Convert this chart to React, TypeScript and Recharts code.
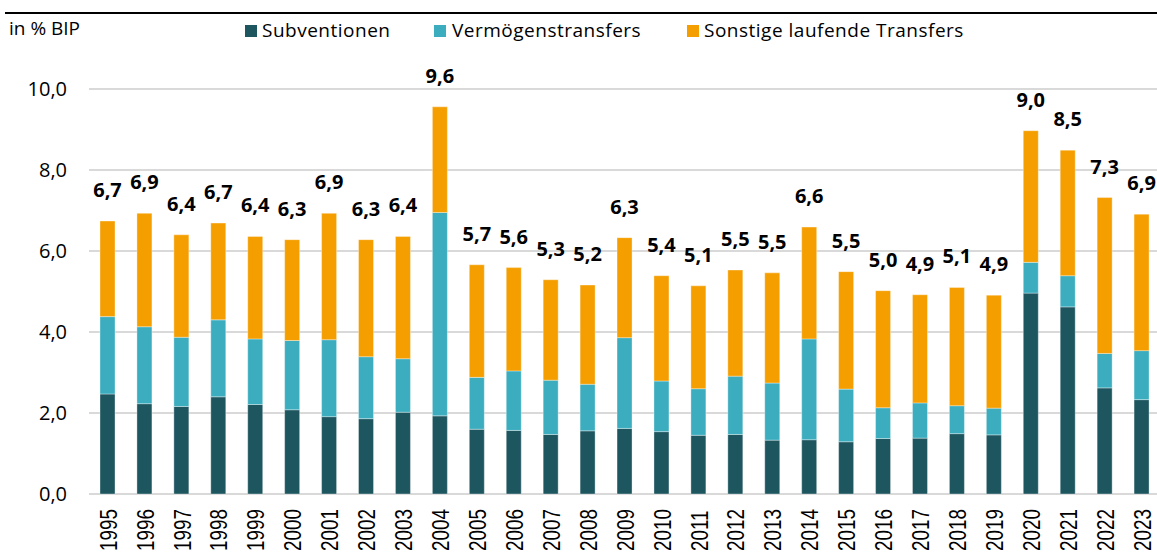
import React from 'react';
import { BarChart, Bar, XAxis, YAxis, CartesianGrid, Legend, LabelList } from 'recharts';

// values in % of GDP
const years = [
    '1995', '1996', '1997', '1998', '1999', '2000', '2001', '2002', '2003', '2004',
    '2005', '2006', '2007', '2008', '2009', '2010', '2011', '2012', '2013', '2014',
    '2015', '2016', '2017', '2018', '2019', '2020', '2021', '2022', '2023',
];

const subventionen = [
    2.47, 2.23, 2.16, 2.40, 2.21, 2.08, 1.91, 1.86, 2.02, 1.93,
    1.60, 1.57, 1.47, 1.56, 1.62, 1.54, 1.45, 1.47, 1.33, 1.34,
    1.29, 1.37, 1.38, 1.49, 1.46, 4.96, 4.62, 2.62, 2.33,
];

const vermoegenstransfers = [
    1.91, 1.90, 1.71, 1.90, 1.62, 1.71, 1.90, 1.53, 1.32, 5.02,
    1.28, 1.47, 1.34, 1.15, 2.24, 1.25, 1.15, 1.44, 1.41, 2.49,
    1.30, 0.76, 0.87, 0.69, 0.66, 0.76, 0.77, 0.85, 1.21,
];

const sonstige = [
    2.36, 2.80, 2.53, 2.39, 2.53, 2.49, 3.12, 2.89, 3.02, 2.61,
    2.78, 2.55, 2.48, 2.45, 2.47, 2.60, 2.54, 2.62, 2.72, 2.76,
    2.90, 2.89, 2.67, 2.92, 2.79, 3.25, 3.10, 3.85, 3.37,
];

const yTicks = [0, 2, 4, 6, 8, 10];

const COLORS = {
    sub: '#1e5660',
    verm: '#3badbf',
    sonst: '#f59e00',
};

const legendItems = [
    { label: 'Subventionen', color: COLORS.sub, square: 245, text: 262 },
    { label: 'Vermögenstransfers', color: COLORS.verm, square: 434, text: 452 },
    { label: 'Sonstige laufende Transfers', color: COLORS.sonst, square: 687, text: 704 },
];

const fmt = (v: number) => v.toFixed(1).replace('.', ',');

const data = years.map((year, i) => ({
    year,
    sub: subventionen[i],
    verm: vermoegenstransfers[i],
    sonst: sonstige[i],
    total: subventionen[i] + vermoegenstransfers[i] + sonstige[i],
}));

const HeaderLegend = () => (
    <div style={{ position: 'relative', width: 1157, height: 50 }}>
        <div style={{ position: 'absolute', left: 5, right: 0, top: 12, height: 2, background: '#000' }} />
        <div style={{ position: 'absolute', left: 9, top: 15, fontSize: 19, lineHeight: '26px', color: '#000' }}>
            in % BIP
        </div>
        {legendItems.map((item) => (
            <React.Fragment key={item.label}>
                <div
                    style={{
                        position: 'absolute',
                        left: item.square,
                        top: 25,
                        width: 12,
                        height: 12,
                        background: item.color,
                    }}
                />
                <div
                    style={{
                        position: 'absolute',
                        left: item.text,
                        top: 17,
                        fontSize: 19,
                        lineHeight: '26px',
                        letterSpacing: 0.5,
                        color: '#000',
                        whiteSpace: 'nowrap',
                    }}
                >
                    {item.label}
                </div>
            </React.Fragment>
        ))}
    </div>
);

// year labels are rotated and look narrow in the original, squeeze them a bit
const YearTick = (props: any) => {
    const { x, payload } = props;
    return (
        <text
            transform={`translate(${x + 1},551) rotate(-90) scale(0.82,1)`}
            textAnchor="start"
            dominantBaseline="central"
            fontFamily="'Liberation Sans', Arial, sans-serif"
            fontSize={23}
            fill="#000"
        >
            {payload.value}
        </text>
    );
};

const TotalLabel = (props: any) => {
    const { x, y, width, value } = props;
    return (
        <text
            x={x + width / 2}
            y={y - 24}
            textAnchor="middle"
            fontSize={20}
            fontWeight="bold"
            fill="#000"
        >
            {fmt(value)}
        </text>
    );
};

export default function App() {
    return (
        <div
            style={{
                position: 'absolute',
                left: 0,
                top: 0,
                width: 1157,
                height: 553,
                overflow: 'hidden',
                background: '#fff',
                fontFamily: "'Open Sans', sans-serif",
            }}
        >
            <BarChart
                width={1160}
                height={553}
                data={data}
                margin={{ top: 89, right: 0, bottom: 0, left: 0 }}
                barSize={15}
            >
                <CartesianGrid horizontal vertical={false} stroke="#d9d9d9" strokeWidth={2} />
                <XAxis
                    dataKey="year"
                    axisLine={false}
                    tickLine={false}
                    interval={0}
                    height={59}
                    tick={<YearTick />}
                />
                <YAxis
                    width={89}
                    domain={[0, 10]}
                    ticks={yTicks}
                    axisLine={false}
                    tickLine={false}
                    tickSize={0}
                    tickMargin={22}
                    tickFormatter={(v: number) => fmt(v)}
                    tick={{ fontSize: 20, fill: '#000' }}
                />
                <Legend
                    layout="horizontal"
                    verticalAlign="middle"
                    align="center"
                    wrapperStyle={{ top: 0, left: 0, width: 1157, height: 50 }}
                    content={() => <HeaderLegend />}
                />
                <Bar dataKey="sub" stackId="a" fill={COLORS.sub} stroke="rgba(255,255,255,0.35)" strokeWidth={1} isAnimationActive={false} name="Subventionen" />
                <Bar dataKey="verm" stackId="a" fill={COLORS.verm} stroke="rgba(255,255,255,0.35)" strokeWidth={1} isAnimationActive={false} name="Vermögenstransfers" />
                <Bar dataKey="sonst" stackId="a" fill={COLORS.sonst} stroke="rgba(255,255,255,0.35)" strokeWidth={1} isAnimationActive={false} name="Sonstige laufende Transfers">
                    <LabelList dataKey="total" content={<TotalLabel />} />
                </Bar>
            </BarChart>
        </div>
    );
}
